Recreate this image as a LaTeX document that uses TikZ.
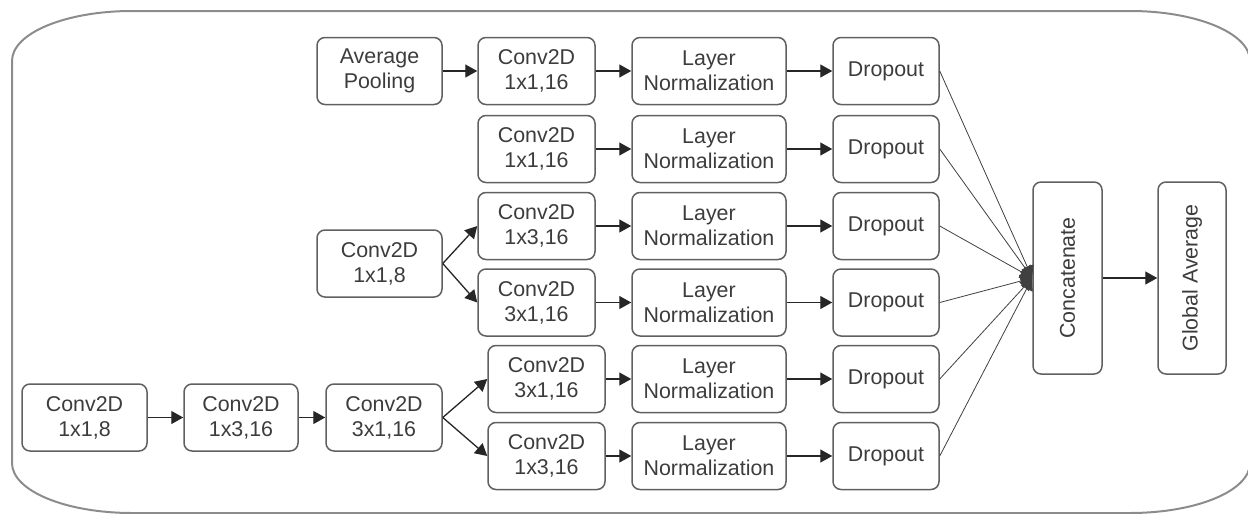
\documentclass[tikz,border=0pt]{standalone}
\usepackage{fontspec}
\setmainfont{Liberation Sans}
\usepackage{graphicx}
\usetikzlibrary{arrows.meta}
\definecolor{boxgray}{HTML}{606060}
\definecolor{txtgray}{HTML}{3C3C3C}
\definecolor{rimgray}{HTML}{8C8C8C}
\begin{document}
\begin{tikzpicture}[x=0.5pt,y=-0.5pt,
  blk/.style={draw=boxgray, line width=0.75pt, rounded corners=4pt, align=center,
    text=txtgray, inner sep=0pt, minimum height=33.5pt,
    font=\fontsize{10.7}{12.5}\selectfont},
  arr/.style={-{Triangle[length=6pt,width=6.5pt]}, line width=0.65pt, draw=black!85},
  fan/.style={-{Triangle[length=6pt,width=6.5pt]}, line width=0.4pt, draw=black!75}]
\useasboundingbox (0,0) rectangle (1248,514);

% outer block
\draw[rimgray, line width=1pt] (132,11) -- (1130,11)
  .. controls (1196,11) and (1250,33) .. (1250,61) -- (1250,463)
  .. controls (1250,491) and (1196,513) .. (1130,513) -- (132,513)
  .. controls (66,513) and (12,491) .. (12,463) -- (12,61)
  .. controls (12,33) and (66,11) .. (132,11) -- cycle;

% stem
\node[blk, minimum width=62.5pt] (b1) at (84.5,417.5) {Conv2D\\1x1,8};
\node[blk, minimum width=57pt] (b2) at (241,417.5) {Conv2D\\1x3,16};
\node[blk, minimum width=58pt] (b3) at (384,417.5) {Conv2D\\3x1,16};

\node[blk, minimum width=62.5pt] (pool) at (379.5,71) {Average\\Pooling};
\node[blk, minimum width=62.5pt] (cvm) at (379.5,263.5) {Conv2D\\1x1,8};

\node[blk, minimum width=58.5pt] (cv1) at (536.5,71) {Conv2D\\1x1,16};
\node[blk, minimum width=58.5pt] (cv2) at (536.5,149) {Conv2D\\1x1,16};
\node[blk, minimum width=58.5pt] (cv3) at (536.5,226) {Conv2D\\1x3,16};
\node[blk, minimum width=58.5pt] (cv4) at (536.5,302.5) {Conv2D\\3x1,16};
\node[blk, minimum width=58.5pt] (cv5) at (546.5,379) {Conv2D\\3x1,16};
\node[blk, minimum width=58.5pt] (cv6) at (546.5,456) {Conv2D\\1x3,16};

\node[blk, minimum width=34.5pt, minimum height=96pt] (cat) at (1067.5,278) {\rotatebox{90}{Concatenate}};
\node[blk, minimum width=34pt, minimum height=96pt] (gap) at (1192,278) {\rotatebox{90}{Global Average}};

\foreach \i/\y in {1/71,2/149,3/226,4/302.5,5/379,6/456} {
  \node[blk, minimum width=77pt] (ln\i) at (709,\y) {Layer\\Normalization};
  \node[blk, minimum width=53pt] (do\i) at (886,\y) {Dropout};
  \draw[arr] (cv\i) -- (ln\i);
  \draw[arr] (ln\i) -- (do\i);
  \draw[fan] (do\i.east) -- (cat.west);
}

\draw[arr] (b1) -- (b2);
\draw[arr] (b2) -- (b3);
\draw[arr] (b3.east) -- (cv5.west);
\draw[arr] (b3.east) -- (cv6.west);
\draw[arr] (cvm.east) -- (cv3.west);
\draw[arr] (cvm.east) -- (cv4.west);
\draw[arr] (pool) -- (cv1);
\draw[arr] (cat) -- (gap);
\end{tikzpicture}
\end{document}
